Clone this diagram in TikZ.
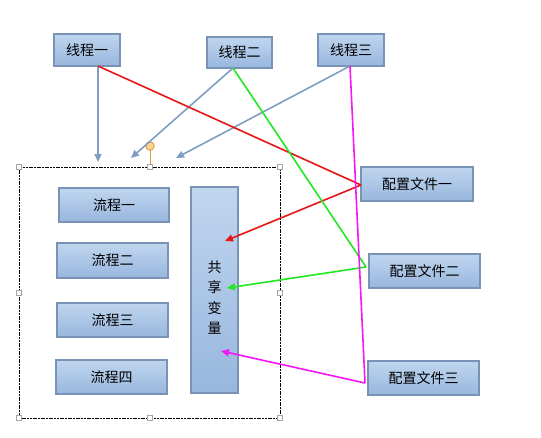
\documentclass[tikz,border=0pt]{standalone}
\usepackage{fontspec}
\setmainfont{Noto Sans CJK SC}
\usetikzlibrary{arrows.meta}
\definecolor{boxborder}{HTML}{7893B6}
\definecolor{boxtop}{HTML}{C0D6EF}
\definecolor{boxbot}{HTML}{98B6DD}
\definecolor{arrblue}{HTML}{7F9EC2}
\definecolor{arrred}{HTML}{E81515}
\definecolor{arrgreen}{HTML}{22E822}
\definecolor{arrmag}{HTML}{F516F5}
\definecolor{handleorange}{HTML}{E09A40}
\definecolor{handlefill}{HTML}{FCD494}
\begin{document}
\begin{tikzpicture}[x=1pt,y=-1pt,
  box/.style={draw=boxborder, line width=1.5pt, top color=boxtop, bottom color=boxbot,
    inner sep=0pt, font=\fontsize{14}{16}\selectfont},
  conn/.style={line width=1.6pt},
  tip/.style={-{Triangle[length=8pt,width=7pt]}},
  handle/.style={draw=gray!70, fill=white, line width=0.6pt, minimum size=5.5pt, inner sep=0pt},
]
\useasboundingbox (0,0) rectangle (541,437);
% outer selection rectangle
\draw[black, line width=1pt, dash pattern=on 2pt off 0.7pt] (19,167) rectangle (280,418);
\coordinate (rot) at (150,167);
\draw[handleorange, line width=0.9pt] (rot) -- (150,150);
\node[draw=handleorange, fill=handlefill, circle, minimum size=8.5pt, inner sep=0pt, line width=0.9pt] (rh) at (150,146) {};
\foreach \n/\p in {h1/{(19,167)},h2/{(150,167)},h3/{(280,167)},h4/{(19,293)},h5/{(280,293)},h6/{(19,418)},h7/{(150,418)},h8/{(280,418)}}
  \node[handle] (\n) at \p {};

% thread boxes
\node[box, minimum width=66pt, minimum height=32pt] (t1) at (87,50) {线程一};
\node[box, minimum width=65pt, minimum height=31pt] (t2) at (239.5,52.5) {线程二};
\node[box, minimum width=66pt, minimum height=32pt] (t3) at (351,50) {线程三};

% config boxes
\node[box, minimum width=112pt, minimum height=34pt] (c1) at (417,184) {配置文件一};
\node[box, minimum width=111pt, minimum height=34pt] (c2) at (424.5,271) {配置文件二};
\node[box, minimum width=111pt, minimum height=34pt] (c3) at (423.5,378) {配置文件三};

% process boxes
\node[box, minimum width=110pt, minimum height=34pt] (p1) at (114,205) {流程一};
\node[box, minimum width=111pt, minimum height=35pt] (p2) at (112.5,260.5) {流程二};
\node[box, minimum width=111pt, minimum height=34pt] (p3) at (112.5,320) {流程三};
\node[box, minimum width=111pt, minimum height=34pt] (p4) at (111.5,377) {流程四};

% shared variable
\node[box, minimum width=47pt, minimum height=206pt] (sv) at (214.5,290) {};
\node[font=\fontsize{14}{20.3}\selectfont, align=center, inner sep=0pt] (svt) at (214.5,297.5) {共\\享\\变\\量};

% coordinates
\coordinate (t1o) at (98,66);
\coordinate (t2o) at (233,68);
\coordinate (t3o) at (350,66);
\coordinate (b1) at (98,162);
\coordinate (b2) at (131,158);
\coordinate (b3) at (176,158);
\coordinate (v1) at (361,185);
\coordinate (v2) at (366,267);
\coordinate (v3) at (365,383);
\coordinate (e1) at (225,241);
\coordinate (e2) at (227,288);
\coordinate (e3) at (221,351);

% blue arrows
\draw[conn, arrblue, tip] (t1o) -- (b1);
\draw[conn, arrblue, tip] (t2o) -- (b2);
\draw[conn, arrblue, tip] (t3o) -- (b3);

% red
\draw[conn, arrred] (t1o) -- (v1);
\draw[conn, arrred, tip] (v1) -- (e1);
% green
\draw[conn, arrgreen] (t2o) -- (v2);
\draw[conn, arrgreen, tip] (v2) -- (e2);
% magenta
\draw[conn, arrmag] (t3o) -- (v3);
\draw[conn, arrmag, tip] (v3) -- (e3);
\end{tikzpicture}
\end{document}
